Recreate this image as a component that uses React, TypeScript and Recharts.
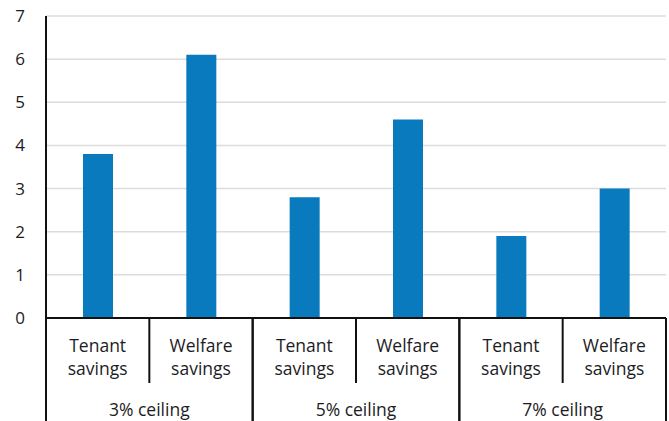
import React from 'react';
import { BarChart, Bar, XAxis, YAxis, CartesianGrid } from 'recharts';

const subLabels = ['Tenant savings', 'Welfare savings', 'Tenant savings', 'Welfare savings', 'Tenant savings', 'Welfare savings'];
const groups = ['3% ceiling', '3% ceiling', '5% ceiling', '5% ceiling', '7% ceiling', '7% ceiling'];
const values = [3.8, 6.1, 2.8, 4.6, 1.9, 3.0];
const yTicks = [0, 1, 2, 3, 4, 5, 6, 7];

const chartData = values.map((v, i) => ({ name: subLabels[i], group: groups[i], value: v }));

const W = 669;
const H = 421;
const MARGIN = { top: 16, right: 3, left: 0, bottom: 0 };
const Y_W = 46;
const SUB_H = 65;
const GROUP_H = 38;
const PLOT_W = W - MARGIN.left - MARGIN.right - Y_W;
const groupCount = new Set(groups).size;
const FONT = '"Open Sans", sans-serif';
const TEXT = '#1c1c24';
const LABEL_SIZE = 17.5;

const SubTick = (props: any) => {
  const { x, y, payload, index } = props;
  const band = PLOT_W / values.length;
  const lines = String(payload.value).split(' ');
  return (
    <g>
      {lines.map((l, i) => (
        <text key={i} x={x} y={y + 34 + i * 23} textAnchor="middle" fill={TEXT} fontSize={LABEL_SIZE} fontFamily={FONT}>
          {l}
        </text>
      ))}
      {index % 2 === 0 && <line x1={x + band / 2} x2={x + band / 2} y1={y} y2={y + SUB_H} stroke="#111" strokeWidth={2} />}
    </g>
  );
};

const GroupTick = (props: any) => {
  const { x, y, payload } = props;
  const band = PLOT_W / groupCount;
  return (
    <g>
      <text x={x} y={y + 33} textAnchor="middle" fill={TEXT} fontSize={LABEL_SIZE} fontFamily={FONT}>
        {payload.value}
      </text>
      <line x1={x - band / 2} x2={x - band / 2} y1={y - SUB_H} y2={y + GROUP_H} stroke="#111" strokeWidth={2} />
      <line x1={x + band / 2} x2={x + band / 2} y1={y - SUB_H} y2={y + GROUP_H} stroke="#111" strokeWidth={2} />
    </g>
  );
};

export default function App() {
  return (
    <div style={{ width: W, height: H, background: '#fff' }}>
      <style>{'body{margin:0}'}</style>
      <BarChart width={W} height={H} data={chartData} margin={MARGIN}>
        <CartesianGrid xAxisId="a_sub" vertical={false} stroke="#dcdcdc" strokeWidth={1.5} />
        <XAxis
          xAxisId="a_sub"
          dataKey="name"
          height={SUB_H}
          interval={0}
          tickLine={false}
          tickSize={0}
          tickMargin={0}
          axisLine={{ stroke: '#111', strokeWidth: 2 }}
          tick={<SubTick />}
        />
        <XAxis
          xAxisId="b_group"
          dataKey="group"
          allowDuplicatedCategory={false}
          height={GROUP_H}
          interval={0}
          tickLine={false}
          tickSize={0}
          tickMargin={0}
          axisLine={false}
          tick={<GroupTick />}
        />
        <YAxis
          width={Y_W}
          domain={[0, 7]}
          ticks={yTicks}
          interval={0}
          tickLine={false}
          tickSize={0}
          tickMargin={21}
          axisLine={{ stroke: '#111', strokeWidth: 2 }}
          tick={{ fill: TEXT, fontSize: 17, fontFamily: FONT }}
        />
        <Bar xAxisId="a_sub" dataKey="value" fill="#0a7abf" barSize={30} isAnimationActive={false} />
      </BarChart>
    </div>
  );
}
